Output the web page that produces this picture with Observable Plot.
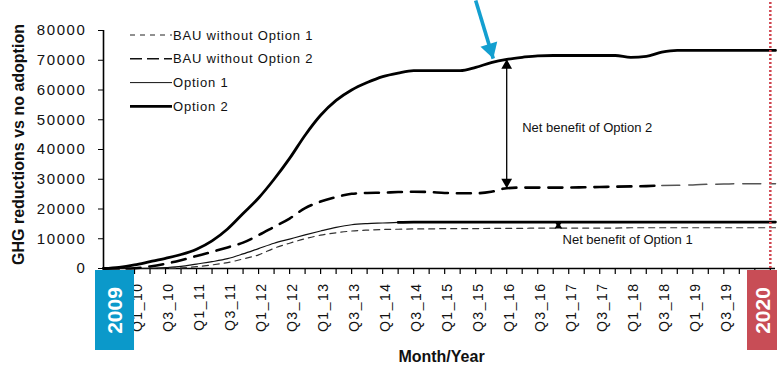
<!DOCTYPE html>
<html>
<head>
<meta charset="utf-8">
<script src="https://cdn.jsdelivr.net/npm/d3@7"></script>
<script src="https://cdn.jsdelivr.net/npm/@observablehq/plot@0.6"></script>
<style>
  body { margin: 0; background: #fff; }
  #chart { position: relative; width: 777px; height: 367px; font-family: "Liberation Sans", Arial, sans-serif; }
  g[aria-label="y-axis tick label"] text { letter-spacing: 1.6px; }
  g[aria-label="x-axis tick label"] text { letter-spacing: 1.5px; }
  g[aria-label="axis-title"] text { letter-spacing: 0.8px; }
  g[aria-label="note"] text { letter-spacing: 0.8px; }
  g[aria-label="year"] text { letter-spacing: 0.5px; }
  #legend { position: absolute; left: 0; top: 0; pointer-events: none; }
  #legend text { letter-spacing: 0.8px; fill: #111; }
</style>
</head>
<body>
<div id="chart"></div>
<script>
// Month index along the horizontal axis (0 = start of the series), sampled each quarter
const months = [0, 3, 6, 9, 12, 15, 18, 21, 24, 27, 30, 33, 36, 39, 42, 45, 48, 51, 54, 57, 60,
  63, 66, 69, 72, 75, 78, 81, 84, 87, 90, 93, 96, 99, 102, 105, 108, 111, 114, 117, 120, 123, 126, 129, 130];

// GHG reductions vs no adoption
const bauWithoutOption1 = [0, 0, 0, 0, 0, 200, 600, 1200, 2000, 3200, 4600, 6800, 8500, 10000, 11200, 12000, 12600, 12900, 13100, 13200, 13300,
  13300, 13400, 13400, 13400, 13500, 13500, 13500, 13600, 13600, 13600, 13600, 13600, 13600, 13700, 13700, 13700, 13700, 13700, 13700, 13700, 13700, 13700, 13700, 13700];
const bauWithoutOption2 = [0, 0, 100, 700, 1600, 2800, 4200, 5600, 7100, 8700, 11200, 14000, 16800, 20300, 22500, 24000, 25100, 25400, 25500, 25700, 25800,
  25700, 25400, 25300, 25300, 25800, 27000, 27200, 27200, 27200, 27200, 27300, 27400, 27500, 27600, 27700, 27900, 28000, 28100, 28300, 28400, 28500, 28500, 28500, 28500];
const option1 = [0, 0, 0, 50, 300, 700, 1500, 2300, 3300, 4900, 6700, 8500, 9900, 11300, 12600, 13800, 14700, 15100, 15300, 15500, 15600,
  15600, 15600, 15600, 15600, 15600, 15600, 15600, 15600, 15600, 15600, 15600, 15600, 15600, 15600, 15600, 15600, 15600, 15600, 15600, 15600, 15600, 15600, 15600, 15600];
const option2 = [0, 400, 1200, 2300, 3400, 4700, 6500, 9300, 13300, 18500, 23700, 30000, 37000, 44800, 51500, 56500, 60000, 62500, 64500, 65700, 66500,
  66500, 66500, 66500, 67600, 69200, 70300, 71000, 71500, 71600, 71600, 71600, 71600, 71600, 71000, 71300, 72700, 73300, 73300, 73300, 73300, 73300, 73300, 73300, 73300];

const seriesNames = ["BAU without Option 1", "BAU without Option 2", "Option 1", "Option 2"];
const xTickLabels = ["Q1_10", "Q3_10", "Q1_11", "Q3_11", "Q1_12", "Q3_12", "Q1_13", "Q3_13", "Q1_14", "Q3_14",
  "Q1_15", "Q3_15", "Q1_16", "Q3_16", "Q1_17", "Q3_17", "Q1_18", "Q3_18", "Q1_19", "Q3_19"];
const yTicks = [0, 10000, 20000, 30000, 40000, 50000, 60000, 70000, 80000];
const startYear = "2009";
const endYear = "2020";
const endMonth = 129;       // month index of the 2020 marker
const option2Month = 78;    // where the Option 2 benefit is measured
const option1Month = 88;    // where the Option 1 benefit is measured

// ---- layout ----
const W = 777, H = 367;
const M = {top: 30, right: 2, bottom: 99, left: 103};
const xDomain = [0, 130];
const yDomain = [0, 80000];
const sx = d3.scaleLinear(xDomain, [M.left, W - M.right]);
const sy = d3.scaleLinear(yDomain, [H - M.bottom, M.top]);
const pxToY = (px) => sy.invert(px);       // helper for items placed in the margins
const pxToX = (px) => sx.invert(px);

const table = months.map((m, i) => ({
  m, bau1: bauWithoutOption1[i], bau2: bauWithoutOption2[i], opt1: option1[i], opt2: option2[i]
}));
const at = (key, m) => {
  const i = d3.bisector((d) => d.m).left(table, m);
  const b = table[i];
  if (b.m === m) return b[key];
  const a = table[i - 1];
  return a[key] + (b[key] - a[key]) * (m - a.m) / (b.m - a.m);
};

const tickMonths = d3.range(0, 130, 3);
const labelMonths = xTickLabels.map((_, k) => 6 + 6 * k + 0.5);

// benefit brackets
const bracket2 = [{m: option2Month, hi: at("opt2", option2Month), lo: at("bau2", option2Month)}];
const bracket1 = [{m: option1Month, hi: at("opt1", option1Month), lo: at("bau1", option1Month)}];

const notes = [
  {m: 81, v: 47400, t: "Net benefit of Option 2"},
  {m: 88.8, v: 9600, t: "Net benefit of Option 1"}
];

// pointer arrow above the Option 2 curve
const pointer = {m1: 72, v1: pxToY(0), m2: 75.4, v2: at("opt2", 75.4) + 1200};
const pdx = sx(pointer.m2) - sx(pointer.m1), pdy = sy(pointer.v2) - sy(pointer.v1);
const plen = Math.hypot(pdx, pdy);
const pAngle = Math.atan2(pdx, -pdy) * 180 / Math.PI;
const headR = 6.5;
const headK = Math.sqrt(Math.PI * headR * headR / (3 * Math.sqrt(3)));
const headOff = 2 * headK;

// year boxes under the axis
const boxTop = pxToY(H - M.bottom + 2), boxBottom = pxToY(H - 17);
const years = [
  {x1: pxToX(95), x2: 6, label: startYear, fill: "#0b99ca"},
  {x1: pxToX(747), x2: pxToX(W + 2), label: endYear, fill: "#c84d56"}
];

const curve = "monotone-x";

const plot = Plot.plot({
  width: W, height: H,
  marginTop: M.top, marginRight: M.right, marginBottom: M.bottom, marginLeft: M.left,
  style: {fontFamily: '"Liberation Sans", Arial, sans-serif', fontSize: "13px", color: "#111", background: "#fff", overflow: "visible"},
  x: {domain: xDomain, label: null},
  y: {domain: yDomain, label: null},
  marks: [
    Plot.axisY({ticks: yTicks, tickSize: 5, tickPadding: 12, tickFormat: (d) => String(d), fontSize: 15, label: null, stroke: "#000", fill: "#111"}),
    Plot.axisX({ticks: tickMonths, tickSize: 6, tickFormat: () => "", label: null, stroke: "#000", strokeWidth: 1.2}),
    Plot.axisX({ticks: labelMonths, tickSize: 0, tickPadding: 14, tickRotate: -90, fontSize: 14, label: null, fill: "#111",
      tickFormat: (d) => xTickLabels[Math.round((d - 6.5) / 6)]}),
    Plot.ruleY([0], {stroke: "#000", strokeWidth: 1.6}),
    Plot.ruleX([0], {y1: 0, y2: yDomain[1], stroke: "#000", strokeWidth: 1.6}),

    // series
    Plot.line(table, {x: "m", y: "bau1", curve, stroke: "#333", strokeWidth: 1.2, strokeDasharray: "6,5"}),
    Plot.line(table, {x: "m", y: "opt1", curve, stroke: "#111", strokeWidth: 1.2}),
    Plot.line(table.filter((d) => d.m >= 57), {x: "m", y: "opt1", curve, stroke: "#000", strokeWidth: 2.6}),
    Plot.line(table.filter((d) => d.m <= 108), {x: "m", y: "bau2", curve, stroke: "#000", strokeWidth: 2.6, strokeDasharray: "14,9"}),
    Plot.line(table.filter((d) => d.m >= 108), {x: "m", y: "bau2", curve, stroke: "#555", strokeWidth: 1.5, strokeDasharray: "18,9"}),
    Plot.line(table, {x: "m", y: "opt2", curve, stroke: "#000", strokeWidth: 2.8}),

    // 2020 marker
    Plot.ruleX([endMonth], {y1: 0, y2: pxToY(0), stroke: "#d0454f", strokeWidth: 2.5, strokeDasharray: "2,2"}),

    // benefit brackets
    Plot.ruleX(bracket2, {x: "m", y1: "lo", y2: "hi", stroke: "#000", strokeWidth: 1.3}),
    Plot.dot(bracket2, {x: "m", y: "hi", symbol: "triangle", r: 4, fill: "#000", stroke: "none", dy: 6.2}),
    Plot.dot(bracket2, {x: "m", y: "lo", symbol: "triangle", r: 4, fill: "#000", stroke: "none", rotate: 180, dy: -6.2}),
    Plot.ruleX(bracket1, {x: "m", y1: "lo", y2: "hi", stroke: "#000", strokeWidth: 1.3}),
    Plot.dot(bracket1, {x: "m", y: "hi", symbol: "triangle", r: 2.8, fill: "#000", stroke: "none", dy: 4.3}),
    Plot.dot(bracket1, {x: "m", y: "lo", symbol: "triangle", r: 2.8, fill: "#000", stroke: "none", rotate: 180, dy: -4.3}),
    Plot.text(notes, {x: "m", y: "v", text: "t", textAnchor: "start", fontSize: 13, fill: "#111", ariaLabel: "note"}),

    // pointer arrow
    Plot.link([pointer], {x1: "m1", y1: "v1", x2: "m2", y2: "v2", stroke: "#139fd0", strokeWidth: 3.6}),
    Plot.dot([pointer], {x: "m2", y: "v2", symbol: "triangle", r: headR, fill: "#139fd0", stroke: "none",
      rotate: pAngle, dx: -headOff * pdx / plen, dy: -headOff * pdy / plen}),

    // year boxes
    Plot.rect(years, {x1: "x1", x2: "x2", y1: boxTop, y2: boxBottom, fill: "fill"}),
    Plot.text(years, {x: (d) => (d.x1 + Math.min(d.x2, xDomain[1] + 0.5)) / 2, y: (boxTop + boxBottom) / 2, text: "label",
      rotate: -90, fontSize: 21, fontWeight: "bold", fill: "#fff", ariaLabel: "year"}),

    // axis titles
    Plot.text(["GHG reductions vs no adoption"], {frameAnchor: "left", textAnchor: "middle", lineAnchor: "middle",
      rotate: -90, dx: -85, dy: -5, fontSize: 16, fontWeight: "bold", fill: "#111", ariaLabel: "axis-title"}),
    Plot.text(["Month/Year"], {frameAnchor: "bottom", textAnchor: "middle", lineAnchor: "middle",
      dy: 88, dx: 2, fontSize: 16, fontWeight: "bold", fill: "#111", ariaLabel: "axis-title"})
  ]
});

const chart = document.getElementById("chart");
chart.appendChild(plot);

// legend, inside the upper-left of the plot area
const legendStyles = [
  {dash: "5,5", width: 1, color: "#222"},
  {dash: "12,5", width: 1.6, color: "#111"},
  {dash: null, width: 1, color: "#111"},
  {dash: null, width: 2.6, color: "#000"}
];
const legend = d3.create("svg").attr("id", "legend").attr("width", W).attr("height", H);
const rows = legend.selectAll("g").data(seriesNames).join("g")
  .attr("transform", (d, i) => `translate(130, ${35 + i * 23.8})`);
rows.append("line").attr("x1", 0).attr("x2", 42).attr("y1", 0).attr("y2", 0)
  .attr("stroke", (d, i) => legendStyles[i].color)
  .attr("stroke-width", (d, i) => legendStyles[i].width)
  .attr("stroke-dasharray", (d, i) => legendStyles[i].dash);
rows.append("text").attr("x", 43).attr("y", 0).attr("dy", "0.35em")
  .attr("font-size", 13).attr("font-family", '"Liberation Sans", Arial, sans-serif')
  .text((d) => d);
chart.appendChild(legend.node());
</script>
</body>
</html>
